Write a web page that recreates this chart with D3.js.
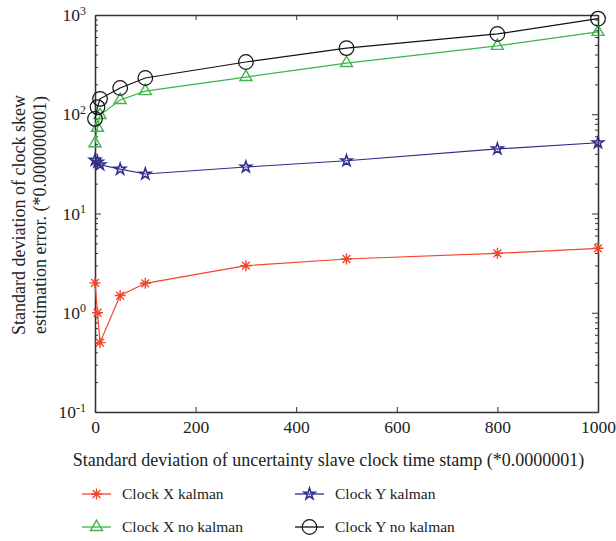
<!DOCTYPE html>
<html>
<head>
<meta charset="utf-8">
<script src="https://cdn.jsdelivr.net/npm/d3@7/dist/d3.min.js"></script>
<style>
  body { margin: 0; background: #fff; }
  text { font-family: "Liberation Serif", "DejaVu Serif", serif; fill: #222; }
</style>
</head>
<body>
<svg id="chart" width="616" height="541"></svg>
<script>
// x positions (std dev of slave clock time stamp)
const xVals = [0, 5, 10, 50, 100, 300, 500, 800, 1000];

// series values
const clockXKalman   = [2.0, 1.0, 0.5, 1.49, 1.98, 2.98, 3.48, 3.97, 4.46];
const clockXNoKalman = [51, 73, 98, 139, 171, 237, 328, 488, 675];
const clockYKalman   = [34.5, 33, 31, 28, 25, 29.4, 34, 44.7, 51.6];
const clockYNoKalman = [90, 118, 143, 184, 232, 336, 464, 644, 918];

const xTicks = [0, 200, 400, 600, 800, 1000];
const yTicks = [0.1, 1, 10, 100, 1000];
const yExp = ["-1", "0", "1", "2", "3"];

const series = [
  { name: "Clock X kalman", values: clockXKalman, color: "#f0462a", marker: "asterisk" },
  { name: "Clock X no kalman", values: clockXNoKalman, color: "#3db54a", marker: "triangle" },
  { name: "Clock Y kalman", values: clockYKalman, color: "#2f2c8c", marker: "star" },
  { name: "Clock Y no kalman", values: clockYNoKalman, color: "#111111", marker: "circle" }
];

const svg = d3.select("#chart");
const plotL = 95, plotR = 598, plotT = 15, plotB = 412;

const x = d3.scaleLinear().domain([0, 1000]).range([plotL, plotR]);
const y = d3.scaleLog().domain([0.1, 1000]).range([plotB, plotT]);

const axisColor = "#333";

// minor log ticks
const minor = [];
for (let e = -1; e < 3; e++) {
  for (let m = 2; m <= 9; m++) minor.push(m * Math.pow(10, e));
}

// bottom axis
const gx = svg.append("g")
  .attr("transform", `translate(0,${plotB})`)
  .call(d3.axisBottom(x).tickValues(xTicks).tickSize(-5).tickPadding(9)
    .tickSizeOuter(0).tickFormat(d3.format("d")));
gx.selectAll("text").style("font-size", "17.5px");

// top axis (ticks only)
svg.append("g")
  .attr("transform", `translate(0,${plotT})`)
  .call(d3.axisTop(x).tickValues(xTicks).tickSize(-5).tickFormat("").tickSizeOuter(0));

// left axis
const gy = svg.append("g")
  .attr("transform", `translate(${plotL},0)`)
  .call(d3.axisLeft(y).tickValues(yTicks).tickSize(-6).tickPadding(9).tickSizeOuter(0).tickFormat(""));
gy.selectAll(".tick text").each(function (d, i) {
  const t = d3.select(this).style("font-size", "17.5px").attr("dy", "0.32em");
  t.append("tspan").text("10");
  t.append("tspan").attr("dy", "-0.55em").style("font-size", "12px").text(yExp[i]);
});
svg.append("g")
  .attr("transform", `translate(${plotL},0)`)
  .call(d3.axisLeft(y).tickValues(minor).tickSize(-3).tickFormat("").tickSizeOuter(0));

// right axis
svg.append("g")
  .attr("transform", `translate(${plotR},0)`)
  .call(d3.axisRight(y).tickValues(yTicks).tickSize(-6).tickFormat("").tickSizeOuter(0));
svg.append("g")
  .attr("transform", `translate(${plotR},0)`)
  .call(d3.axisRight(y).tickValues(minor).tickSize(-3).tickFormat("").tickSizeOuter(0));

svg.selectAll(".domain").attr("stroke", axisColor).attr("stroke-width", 1.3);
svg.selectAll(".tick line").attr("stroke", axisColor).attr("stroke-width", 1);

// markers
const asteriskPath = (r) => {
  let p = "";
  for (let k = 0; k < 4; k++) {
    const a = k * Math.PI / 4;
    const dx = r * Math.cos(a), dy = r * Math.sin(a);
    p += `M${-dx},${-dy}L${dx},${dy}`;
  }
  return p;
};

function drawMarker(g, type, color, cx, cy) {
  if (type === "circle") {
    g.append("circle").attr("cx", cx).attr("cy", cy).attr("r", 7.3)
      .attr("fill", "none").attr("stroke", color).attr("stroke-width", 1.2);
  } else if (type === "triangle") {
    g.append("path").attr("d", d3.symbol(d3.symbolTriangle, 62)())
      .attr("transform", `translate(${cx},${cy})`)
      .attr("fill", "none").attr("stroke", color).attr("stroke-width", 1.4);
  } else if (type === "star") {
    g.append("path").attr("d", d3.symbol(d3.symbolStar, 40)())
      .attr("transform", `translate(${cx},${cy})`)
      .attr("fill", "none").attr("stroke", color).attr("stroke-width", 1.5);
  } else {
    g.append("path").attr("d", asteriskPath(5.5))
      .attr("transform", `translate(${cx},${cy})`)
      .attr("fill", "none").attr("stroke", color).attr("stroke-width", 1.4);
  }
}

const line = d3.line().x(d => x(d[0])).y(d => y(d[1]));

series.forEach(s => {
  const pts = xVals.map((xv, i) => [xv, s.values[i]]);
  const g = svg.append("g");
  g.append("path").datum(pts).attr("d", line)
    .attr("fill", "none").attr("stroke", s.color).attr("stroke-width", 1.2);
  pts.forEach(p => drawMarker(g, s.marker, s.color, x(p[0]), y(p[1])));
});

// axis titles
svg.append("text")
  .attr("x", (plotL + plotR) / 2 - 18).attr("y", 466)
  .attr("text-anchor", "middle").style("font-size", "18px")
  .text("Standard deviation of uncertainty slave clock time stamp (*0.0000001)");

const yTitle = svg.append("text")
  .attr("transform", "translate(0,215) rotate(-90)")
  .attr("text-anchor", "middle").style("font-size", "18px");
yTitle.append("tspan").attr("x", 0).attr("y", 25).text("Standard deviation of clock skew");
yTitle.append("tspan").attr("x", 0).attr("y", 46).text("estimation error. (*0.000000001)");

// legend
const legendPos = [
  { x: 82, y: 494 },
  { x: 82, y: 527 },
  { x: 295, y: 494 },
  { x: 295, y: 527 }
];
series.forEach((s, i) => {
  const p = legendPos[i];
  const g = svg.append("g");
  g.append("line").attr("x1", p.x).attr("x2", p.x + 29).attr("y1", p.y).attr("y2", p.y)
    .attr("stroke", s.color).attr("stroke-width", 1.3);
  drawMarker(g, s.marker, s.color, p.x + 14.5, p.y);
  g.append("text").attr("x", p.x + 40).attr("y", p.y).attr("dy", "0.35em")
    .style("font-size", "15.5px").text(s.name);
});
</script>
</body>
</html>
